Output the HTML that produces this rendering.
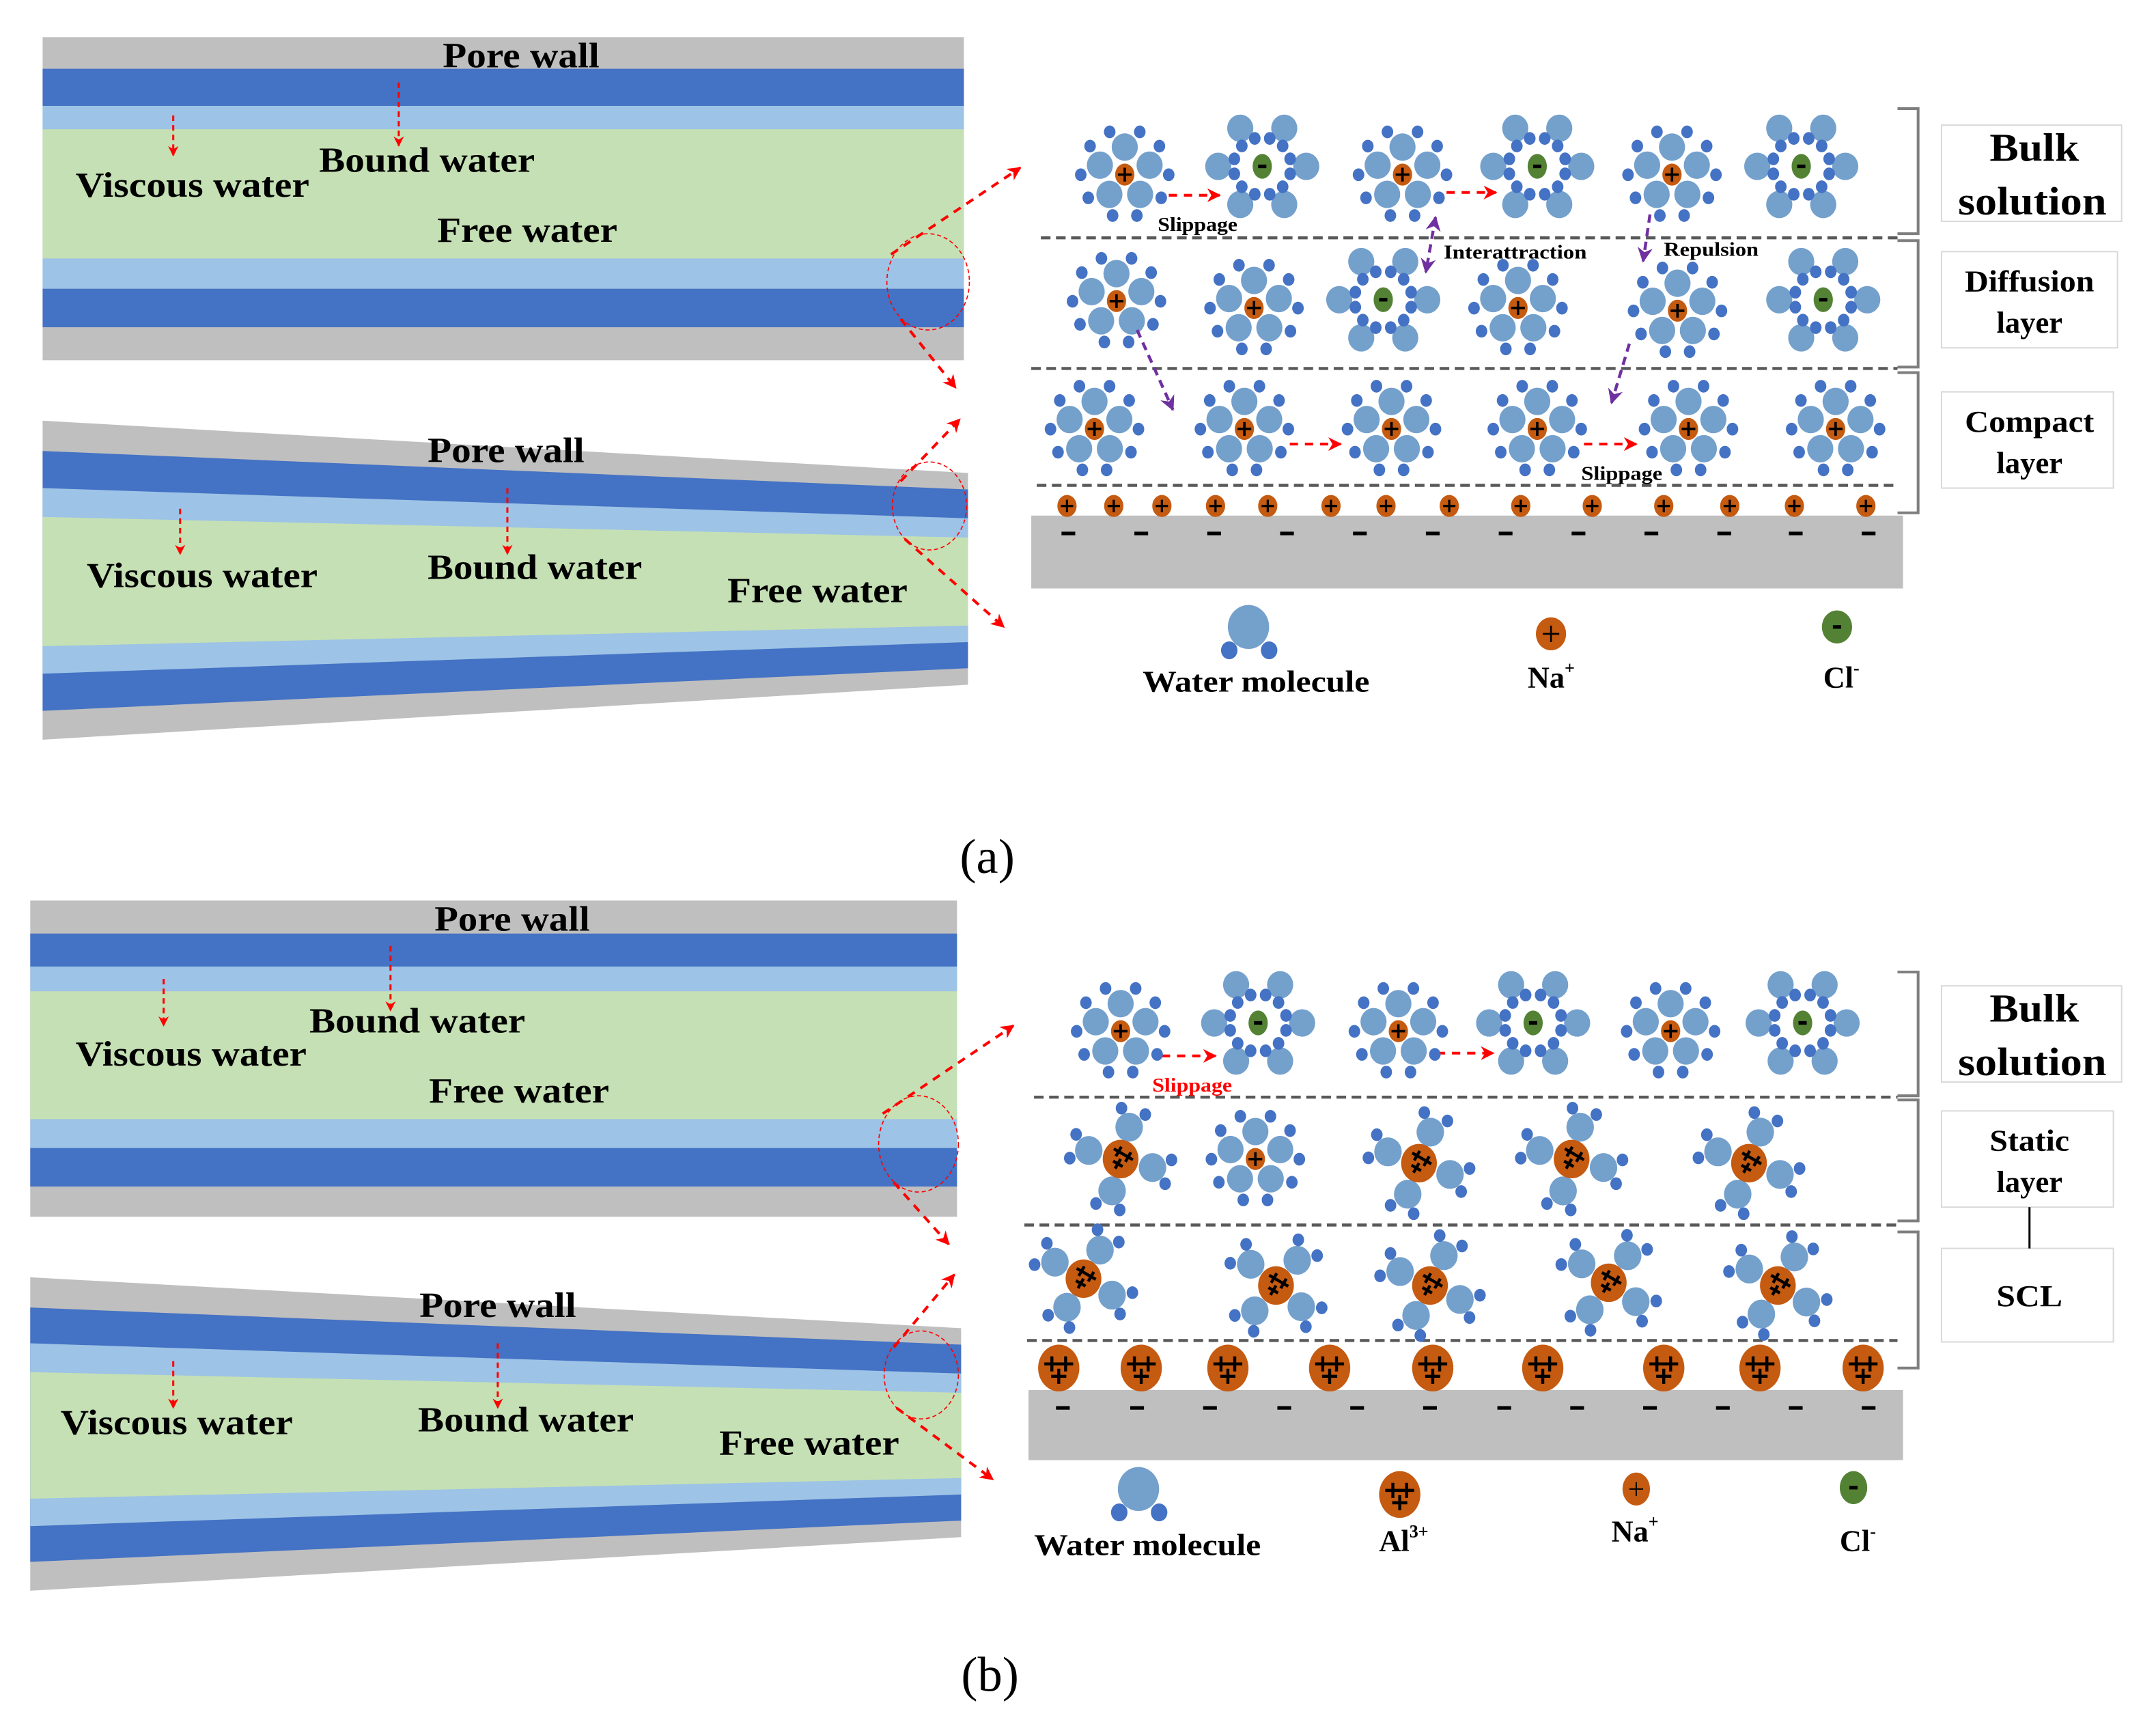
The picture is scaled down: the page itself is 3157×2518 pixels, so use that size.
<!DOCTYPE html>
<html><head><meta charset="utf-8"><style>
html,body{margin:0;padding:0;background:#fff;}
svg{display:block;}
text{font-family:"Liberation Serif",serif;font-weight:bold;fill:#000;}
</style></head><body>
<svg id="s" width="3157" height="2518" viewBox="0 0 1568 1251" preserveAspectRatio="none" xmlns="http://www.w3.org/2000/svg">
<defs>
<marker id="ar" viewBox="0 0 10 10" refX="9" refY="5" markerWidth="5" markerHeight="5" orient="auto"><path d="M0,0 L10,5 L0,10 L3,5z" fill="#f00"/></marker>
<marker id="ap" viewBox="0 0 10 10" refX="9" refY="5" markerWidth="5" markerHeight="5" orient="auto"><path d="M0,0 L10,5 L0,10 L3,5z" fill="#7030a0"/></marker>
<marker id="ap2" viewBox="0 0 10 10" refX="1" refY="5" markerWidth="5" markerHeight="5" orient="auto"><path d="M10,0 L0,5 L10,10 L7,5z" fill="#7030a0"/></marker>
</defs>
<rect x="31" y="27" width="670" height="235" fill="#bfbfbf"/>
<rect x="31" y="50" width="670" height="27" fill="#4472c4"/>
<rect x="31" y="77" width="670" height="17" fill="#9dc3e6"/>
<rect x="31" y="94" width="670" height="94" fill="#c5e0b4"/>
<rect x="31" y="188" width="670" height="22" fill="#9dc3e6"/>
<rect x="31" y="210" width="670" height="28" fill="#4472c4"/>
<polygon points="31,306 704,344 704,498 31,538" fill="#bfbfbf"/>
<polygon points="31,328 704,356 704,486 31,517" fill="#4472c4"/>
<polygon points="31,355 704,377 704,467 31,490" fill="#9dc3e6"/>
<polygon points="31,376 704,391 704,455 31,470" fill="#c5e0b4"/>
<rect x="22" y="655" width="674" height="230" fill="#bfbfbf"/>
<rect x="22" y="679" width="674" height="24" fill="#4472c4"/>
<rect x="22" y="703" width="674" height="18" fill="#9dc3e6"/>
<rect x="22" y="721" width="674" height="93" fill="#c5e0b4"/>
<rect x="22" y="814" width="674" height="21" fill="#9dc3e6"/>
<rect x="22" y="835" width="674" height="28" fill="#4472c4"/>
<polygon points="22,929 699,966 699,1118 22,1157" fill="#bfbfbf"/>
<polygon points="22,951 699,978 699,1106 22,1136" fill="#4472c4"/>
<polygon points="22,977 699,999 699,1087 22,1110" fill="#9dc3e6"/>
<polygon points="22,998 699,1013 699,1075 22,1090" fill="#c5e0b4"/>

<g font-size="26">
<text x="322" y="49" textLength="114" lengthAdjust="spacingAndGlyphs">Pore wall</text>
<text x="55" y="143" textLength="170" lengthAdjust="spacingAndGlyphs">Viscous water</text>
<text x="232" y="125" textLength="157" lengthAdjust="spacingAndGlyphs">Bound water</text>
<text x="318" y="176" textLength="131" lengthAdjust="spacingAndGlyphs">Free water</text>
<text x="311" y="336" textLength="114" lengthAdjust="spacingAndGlyphs">Pore wall</text>
<text x="63" y="427" textLength="168" lengthAdjust="spacingAndGlyphs">Viscous water</text>
<text x="311" y="421" textLength="156" lengthAdjust="spacingAndGlyphs">Bound water</text>
<text x="529" y="438" textLength="131" lengthAdjust="spacingAndGlyphs">Free water</text>
<text x="316" y="677" textLength="113" lengthAdjust="spacingAndGlyphs">Pore wall</text>
<text x="225" y="751" textLength="157" lengthAdjust="spacingAndGlyphs">Bound water</text>
<text x="55" y="775" textLength="168" lengthAdjust="spacingAndGlyphs">Viscous water</text>
<text x="312" y="802" textLength="131" lengthAdjust="spacingAndGlyphs">Free water</text>
<text x="305" y="958" textLength="114" lengthAdjust="spacingAndGlyphs">Pore wall</text>
<text x="44" y="1043" textLength="169" lengthAdjust="spacingAndGlyphs">Viscous water</text>
<text x="304" y="1041" textLength="157" lengthAdjust="spacingAndGlyphs">Bound water</text>
<text x="523" y="1058" textLength="131" lengthAdjust="spacingAndGlyphs">Free water</text>
</g>
<g stroke="#f00" stroke-width="1.5" stroke-dasharray="4,3" fill="none" marker-end="url(#ar)">
<line x1="126" y1="84" x2="126" y2="113"/><line x1="290" y1="60" x2="290" y2="106"/>
<line x1="131" y1="370" x2="131" y2="403"/><line x1="369" y1="355" x2="369" y2="403"/>
<line x1="119" y1="712" x2="119" y2="746"/><line x1="284" y1="688" x2="284" y2="735"/>
<line x1="126" y1="990" x2="126" y2="1024"/><line x1="362" y1="977" x2="362" y2="1024"/>
</g>
<g stroke="#f00" fill="none">
<ellipse cx="675" cy="205" rx="30" ry="35" stroke-width="0.8" stroke-dasharray="3,2"/>
<ellipse cx="676" cy="368" rx="27" ry="32" stroke-width="0.8" stroke-dasharray="3,2"/>
<ellipse cx="668" cy="832" rx="29" ry="35" stroke-width="0.8" stroke-dasharray="3,2"/>
<ellipse cx="670" cy="1000" rx="27" ry="32" stroke-width="0.8" stroke-dasharray="3,2"/>
<g stroke-width="2" stroke-dasharray="6,5" marker-end="url(#ar)">
<line x1="648" y1="185" x2="742" y2="122"/><line x1="655" y1="232" x2="695" y2="282"/>
<line x1="655" y1="350" x2="698" y2="305"/><line x1="658" y1="392" x2="730" y2="456"/>
<line x1="642" y1="810" x2="737" y2="746"/><line x1="650" y1="860" x2="690" y2="905"/>
<line x1="650" y1="980" x2="694" y2="927"/><line x1="652" y1="1024" x2="722" y2="1076"/>
<line x1="850" y1="142" x2="887" y2="142"/><line x1="1052" y1="140" x2="1088" y2="140"/>
<line x1="938" y1="323" x2="975" y2="323"/><line x1="1152" y1="323" x2="1190" y2="323"/>
<line x1="845" y1="768" x2="884" y2="768"/><line x1="1045" y1="766" x2="1086" y2="766"/>
</g></g>
<g stroke="#595959" stroke-width="2.2" stroke-dasharray="7,4">
<line x1="757" y1="173" x2="1380" y2="173"/><line x1="750" y1="268" x2="1380" y2="268"/><line x1="754" y1="353" x2="1380" y2="353"/>
<line x1="752" y1="798" x2="1380" y2="798"/><line x1="745" y1="891" x2="1380" y2="891"/><line x1="747" y1="975" x2="1380" y2="975"/>
</g>
<rect x="750" y="375" width="634" height="53" fill="#bfbfbf"/>
<rect x="748" y="1011" width="636" height="51" fill="#bfbfbf"/>
<g stroke="#7f7f7f" stroke-width="2" fill="none">
<path d="M1380,79 H1395 V170 H1380"/><path d="M1380,175 H1395 V267 H1380"/><path d="M1380,271 H1395 V373 H1380"/>
<path d="M1380,707 H1395 V797 H1380"/><path d="M1380,800 H1395 V888 H1380"/><path d="M1380,896 H1395 V995 H1380"/>
</g>
<g stroke="#d9d9d9" fill="#fff">
<rect x="1412" y="91" width="131" height="70"/><rect x="1412" y="183" width="128" height="70"/><rect x="1412" y="285" width="125" height="70"/>
<rect x="1412" y="717" width="131" height="70"/><rect x="1412" y="808" width="125" height="70"/><rect x="1412" y="908" width="125" height="68"/>
</g>
<line x1="1476" y1="878" x2="1476" y2="908" stroke="#000" stroke-width="1.5"/>
<g>
<text x="1447" y="117" font-size="29" textLength="65" lengthAdjust="spacingAndGlyphs">Bulk</text><text x="1424" y="156" font-size="29" textLength="108" lengthAdjust="spacingAndGlyphs">solution</text>
<text x="1429" y="212" font-size="22" textLength="94" lengthAdjust="spacingAndGlyphs">Diffusion</text><text x="1452" y="242" font-size="22" textLength="48" lengthAdjust="spacingAndGlyphs">layer</text>
<text x="1429" y="314" font-size="22" textLength="94" lengthAdjust="spacingAndGlyphs">Compact</text><text x="1452" y="344" font-size="22" textLength="48" lengthAdjust="spacingAndGlyphs">layer</text>
<text x="1447" y="743" font-size="29" textLength="65" lengthAdjust="spacingAndGlyphs">Bulk</text><text x="1424" y="782" font-size="29" textLength="108" lengthAdjust="spacingAndGlyphs">solution</text>
<text x="1447" y="837" font-size="22" textLength="58" lengthAdjust="spacingAndGlyphs">Static</text><text x="1452" y="867" font-size="22" textLength="48" lengthAdjust="spacingAndGlyphs">layer</text>
<text x="1452" y="950" font-size="22" textLength="48" lengthAdjust="spacingAndGlyphs">SCL</text>
</g>
<g font-size="14">
<text x="842" y="168" textLength="58" lengthAdjust="spacingAndGlyphs">Slippage</text><text x="1050" y="188" textLength="104" lengthAdjust="spacingAndGlyphs">Interattraction</text><text x="1210" y="186" textLength="69" lengthAdjust="spacingAndGlyphs">Repulsion</text><text x="1150" y="349" textLength="59" lengthAdjust="spacingAndGlyphs">Slippage</text>
<text x="838" y="794" style="fill:#f00" textLength="58" lengthAdjust="spacingAndGlyphs">Slippage</text>
</g>
<g font-size="22">
<text x="831" y="503" textLength="165" lengthAdjust="spacingAndGlyphs">Water molecule</text>
<text x="1111" y="500">Na<tspan font-size="13" dy="-10">+</tspan></text>
<text x="1326" y="500">Cl<tspan font-size="13" dy="-10">-</tspan></text>
<text x="752" y="1131" textLength="165" lengthAdjust="spacingAndGlyphs">Water molecule</text>
<text x="1003" y="1128">Al<tspan font-size="13" dy="-10">3+</tspan></text>
<text x="1172" y="1121">Na<tspan font-size="13" dy="-10">+</tspan></text>
<text x="1338" y="1128">Cl<tspan font-size="13" dy="-10">-</tspan></text>
</g>
<text x="718" y="635" font-size="36" text-anchor="middle" style="font-weight:normal">(a)</text>
<text x="720" y="1230" font-size="36" text-anchor="middle" style="font-weight:normal">(b)</text>
<g id="g"></g>
<g stroke="#7030a0" stroke-width="2.2" stroke-dasharray="6,4" fill="none">
<line x1="827" y1="240" x2="853" y2="298" marker-end="url(#ap)"/>
<line x1="1044" y1="158" x2="1037" y2="198" marker-end="url(#ap)" marker-start="url(#ap2)"/>
<line x1="1200" y1="156" x2="1195" y2="190" marker-end="url(#ap)"/>
<line x1="1185" y1="250" x2="1172" y2="293" marker-end="url(#ap)"/>
</g>
</svg>
<script>
var NS="http://www.w3.org/2000/svg",G=document.getElementById("g");
function el(t,a,p){var e=document.createElementNS(NS,t);for(var k in a)e.setAttribute(k,a[k]);(p||G).appendChild(e);return e;}
var LB="#74a0cc",DB="#4472c4",OR="#c55a11",GR="#548235";
function rad(d){return d*Math.PI/180;}
function plus(x,y,s,w){el("path",{d:"M"+(x-s)+","+y+"H"+(x+s)+"M"+x+","+(y-s)+"V"+(y+s),stroke:"#000","stroke-width":w});}
function minus(x,y,s){el("rect",{x:x-s,y:y-1.3,width:2*s,height:2.6,fill:"#000"});}
function water(cx,cy,ang,d,hd,hs,wr,hr){var a=rad(ang);var x=cx+d*Math.cos(a),y=cy+d*Math.sin(a);
 el("ellipse",{cx:x,cy:y,rx:wr,ry:wr*1.05,fill:LB});
 [-1,1].forEach(function(s){var b=rad(ang+s*hs);el("ellipse",{cx:cx+hd*Math.cos(b),cy:cy+hd*Math.sin(b),rx:hr,ry:hr*1.1,fill:DB});});}
function cation(x,y){[-90,-162,-18,126,54].forEach(function(a){water(x,y,a,19,32,20,9.5,4.2);});
 el("ellipse",{cx:x,cy:y+1,rx:7,ry:8,fill:OR});plus(x,y+1,5,1.8);}
function anion(x,y){[180,0,-120,-60,120,60].forEach(function(a){water(x,y,a,32,21,15,9.5,4.2);});
 el("ellipse",{cx:x,cy:y,rx:7,ry:9,fill:GR});minus(x,y,3);}
function al(x,y,r0){[30,120,210,300].forEach(function(a){water(x,y,a+r0,24,37,14,10,4.2);});
 el("ellipse",{cx:x,cy:y,rx:13,ry:14,fill:OR});
 var g=el("g",{transform:"rotate(30 "+x+" "+y+")"});
 [[-4,-4],[4,-4],[0,4]].forEach(function(p){el("path",{d:"M"+(x+p[0]-4)+","+(y+p[1])+"h8M"+(x+p[0])+","+(y+p[1]-4)+"v8",stroke:"#000","stroke-width":2.2},g);});}
function alS(x,y){el("ellipse",{cx:x,cy:y,rx:15,ry:17,fill:OR});
 [[-5,-3],[5,-3],[0,6]].forEach(function(p){plus(x+p[0],y+p[1],5.5,2.2);});}
function naS(x,y){el("ellipse",{cx:x,cy:y,rx:7,ry:8,fill:OR});plus(x,y,4.5,1.6);}
[[818,'c'],[918,'a'],[1020,'c'],[1118,'a'],[1216,'c'],[1310,'a']].forEach(function(p){p[1]=='c'?cation(p[0],126):anion(p[0],121);});
[[812,'c',218],[912,'c',223],[1006,'a',218],[1104,'c',223],[1220,'c',225],[1326,'a',218]].forEach(function(p){p[1]=='c'?cation(p[0],p[2]):anion(p[0],p[2]);});
[796,905,1012,1118,1228,1335].forEach(function(x){cation(x,311);});
[776,810,845,884,922,968,1008,1054,1106,1158,1210,1258,1305,1357].forEach(function(x){naS(x,368);});
[777,830,883,936,989,1042,1095,1148,1201,1254,1306,1359].forEach(function(x){minus(x,388,5);});
el("ellipse",{cx:908,cy:456,rx:15,ry:16,fill:LB});el("ellipse",{cx:894,cy:473,rx:6,ry:6.5,fill:DB});el("ellipse",{cx:923,cy:473,rx:6,ry:6.5,fill:DB});
el("ellipse",{cx:1128,cy:461,rx:11,ry:12,fill:OR});plus(1128,461,6,1.3);
el("ellipse",{cx:1336,cy:456,rx:11,ry:12,fill:GR});minus(1336,456,3);
[[815,'c'],[915,'a'],[1017,'c'],[1115,'a'],[1215,'c'],[1311,'a']].forEach(function(p){p[1]=='c'?cation(p[0],749):anion(p[0],744);});
al(815,843,-15);cation(913,842);al(1032,846,-10);al(1143,843,-15);al(1272,846,-10);
al(788,930,0);al(928,935,10);al(1040,935,-5);al(1170,933,5);al(1293,935,0);
[770,830,893,967,1042,1122,1210,1280,1355].forEach(function(x){alS(x,995);});
[773,827,880,934,987,1040,1094,1147,1200,1253,1306,1359].forEach(function(x){minus(x,1024,5);});
el("ellipse",{cx:828,cy:1083,rx:15,ry:16,fill:LB});el("ellipse",{cx:814,cy:1100,rx:6,ry:6.5,fill:DB});el("ellipse",{cx:843,cy:1100,rx:6,ry:6.5,fill:DB});
alS(1018,1087);
el("ellipse",{cx:1190,cy:1083,rx:10,ry:12,fill:OR});plus(1190,1083,5,1);
el("ellipse",{cx:1348,cy:1082,rx:10,ry:12,fill:GR});minus(1348,1082,3);
</script>
</body></html>
